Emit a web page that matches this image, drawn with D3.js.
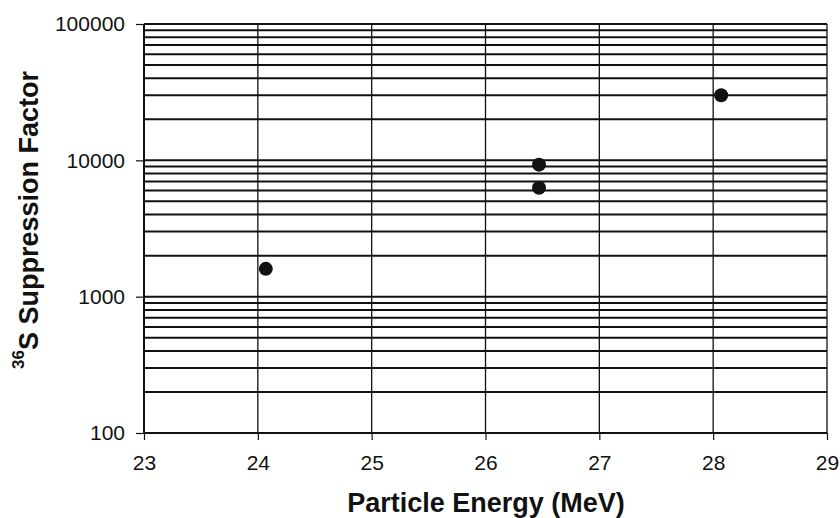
<!DOCTYPE html>
<html><head><meta charset="utf-8">
<script src="https://cdn.jsdelivr.net/npm/d3@7"></script>
<style>body{margin:0;background:#fff}svg{display:block}</style>
</head><body><svg id="c" width="840" height="518"></svg>
<script>
const energy = [24.07, 26.47, 26.47, 28.07];
const suppression = [1600, 9300, 6300, 30000];
const xTicks = [23, 24, 25, 26, 27, 28, 29];
const yTicks = [100, 1000, 10000, 100000];
const xTitle = "Particle Energy (MeV)";
const yTitleSup = "36";
const yTitle = "S Suppression Factor";

const W = 840, H = 518;
const m = {l: 144, r: 13, t: 24, b: 85};
const svg = d3.select("#c");
const x = d3.scaleLinear().domain([23, 29]).range([m.l, W - m.r]);
const y = d3.scaleLog().domain([100, 100000]).range([H - m.b, m.t]);
const font = "Liberation Sans, Arial, sans-serif";

// minor + major horizontal gridlines
const hLines = [];
[100, 1000, 10000].forEach(d => { for (let k = 1; k <= 10; k++) hLines.push(d * k); });
const uniq = Array.from(new Set(hLines));
svg.append("g").selectAll("line").data(uniq).join("line")
  .attr("x1", m.l).attr("x2", W - m.r)
  .attr("y1", d => y(d)).attr("y2", d => y(d))
  .attr("stroke", "#111").attr("stroke-width", 2);

// vertical gridlines
svg.append("g").selectAll("line").data(xTicks.slice(1)).join("line")
  .attr("x1", d => x(d)).attr("x2", d => x(d))
  .attr("y1", m.t).attr("y2", H - m.b)
  .attr("stroke", "#111").attr("stroke-width", 1.3);

// axes
const xAxis = svg.append("g").attr("transform", `translate(0,${H - m.b})`)
  .call(d3.axisBottom(x).tickValues(xTicks).tickFormat(d3.format("d")).tickSize(7).tickPadding(15));
const yAxis = svg.append("g").attr("transform", `translate(${m.l},0)`)
  .call(d3.axisLeft(y).tickValues(yTicks).tickFormat(d3.format("d")).tickSize(8).tickPadding(11));
[xAxis, yAxis].forEach(g => {
  g.select(".domain").attr("stroke", "#111").attr("stroke-width", 2);
  g.selectAll(".tick line").attr("stroke", "#111").attr("stroke-width", 1.2);
  g.selectAll("text").attr("font-family", font).attr("font-size", 21).attr("fill", "#111");
});
xAxis.select(".domain").attr("d", `M${m.l},0H${W - m.r}`);
yAxis.select(".domain").attr("d", `M0,${H - m.b}V${m.t}`);

// points
svg.append("g").selectAll("circle").data(energy).join("circle")
  .attr("cx", d => x(d)).attr("cy", (d, i) => y(suppression[i]))
  .attr("r", 7).attr("fill", "#111");

// titles
svg.append("text").attr("x", 486).attr("y", 512).attr("text-anchor", "middle")
  .attr("font-family", font).attr("font-weight", "bold").attr("font-size", 27)
  .attr("fill", "#111").text(xTitle);
const yt = svg.append("text").attr("transform", "translate(38,220) rotate(-90)")
  .attr("text-anchor", "middle").attr("font-family", font).attr("font-weight", "bold")
  .attr("font-size", 27).attr("fill", "#111");
yt.append("tspan").attr("font-size", 17).attr("dy", -14).text(yTitleSup);
yt.append("tspan").attr("dy", 14).text(yTitle);
</script></body></html>
